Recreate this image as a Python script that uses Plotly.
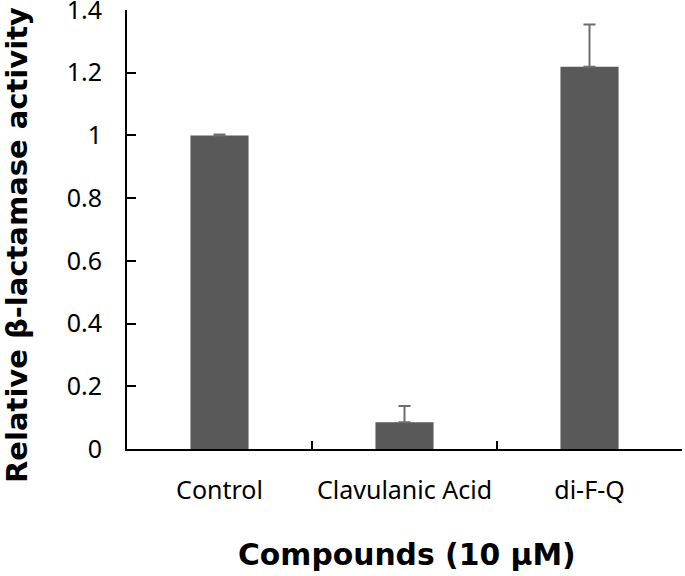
import plotly.graph_objects as go

categories = ["Control", "Clavulanic Acid", "di-F-Q"]
values = [1.0, 0.085, 1.219]
errors = [0.003, 0.052, 0.135]

y_ticks = [0, 0.2, 0.4, 0.6, 0.8, 1.0, 1.2, 1.4]
y_tick_labels = ["0", "0.2", "0.4", "0.6", "0.8", "1", "1.2", "1.4"]

y_title = "Relative β-lactamase activity"
x_title = "Compounds (10 µM)"

FONT = "Noto Sans"
TITLE_FONT = "DejaVu Sans"

fig = go.Figure()
fig.add_trace(go.Bar(
    x=categories, y=values, width=0.314,
    marker=dict(color="#595959", line=dict(width=0)),
    error_y=dict(type="data", array=errors, arrayminus=[0] * len(errors),
                 symmetric=False, color="#6e6e6e", thickness=2, width=6),
))

fig.update_layout(
    width=685, height=576,
    margin=dict(l=127, r=3, t=10, b=127, autoexpand=False),
    paper_bgcolor="white", plot_bgcolor="white",
    showlegend=False,
    font=dict(family=FONT, color="black"),
    xaxis=dict(range=[-0.5, 2.5], showline=True, linecolor="black", linewidth=2,
               ticks="inside", tickson="boundaries", ticklen=8, tickwidth=2,
               tickcolor="black", tickfont=dict(size=25, family=FONT), tickangle=0,
               ticklabelstandoff=18, showgrid=False, zeroline=False, automargin=False),
    yaxis=dict(range=[0, 1.4], tickmode="array", tickvals=y_ticks, ticktext=y_tick_labels,
               showline=True, linecolor="black", linewidth=2,
               ticks="inside", ticklen=9, tickwidth=2, tickcolor="black",
               tickfont=dict(size=25, family=FONT), ticklabelstandoff=18,
               ticklabeloverflow="allow",
               showgrid=False, zeroline=False, automargin=False),
    annotations=[
        dict(text=y_title, textangle=-90, xref="paper", yref="paper",
             x=-0.198, y=0.465, showarrow=False, xanchor="center", yanchor="middle",
             font=dict(size=29, family=TITLE_FONT, color="black", weight="bold")),
        dict(text=x_title, xref="paper", yref="paper",
             x=0.504, y=-0.241, showarrow=False, xanchor="center", yanchor="middle",
             font=dict(size=29.8, family=TITLE_FONT, color="black", weight="bold")),
    ],
)

fig.write_html("out.html", config={"displayModeBar": False},
               post_script="document.body.style.margin='0';")
